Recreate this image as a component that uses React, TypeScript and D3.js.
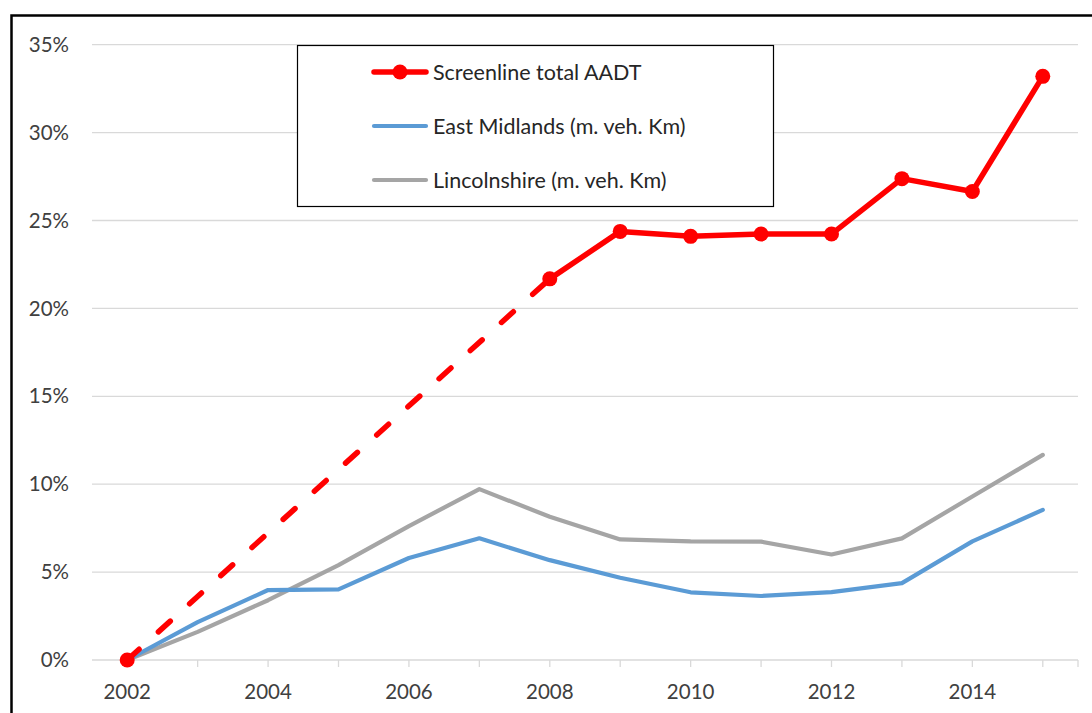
import * as React from 'react';
import * as d3 from 'd3';

const years = [2002, 2003, 2004, 2005, 2006, 2007, 2008, 2009, 2010, 2011, 2012, 2013, 2014, 2015];
const yearLabels = [2002, 2004, 2006, 2008, 2010, 2012, 2014];
const screenline: (number | null)[] = [0, null, null, null, null, null, 21.68, 24.38, 24.1, 24.23, 24.23, 27.38, 26.65, 33.2];
const eastMidlands = [0, 2.15, 3.98, 4.02, 5.8, 6.92, 5.68, 4.68, 3.85, 3.64, 3.86, 4.37, 6.75, 8.54];
const lincolnshire = [0, 1.6, 3.4, 5.4, 7.62, 9.72, 8.15, 6.86, 6.75, 6.73, 6.0, 6.92, 9.3, 11.67];
const yTicks = [0, 5, 10, 15, 20, 25, 30, 35];
const legendItems = ['Screenline total AADT', 'East Midlands (m. veh. Km)', 'Lincolnshire (m. veh. Km)'];

const RED = '#ff0000';
const BLUE = '#5b9bd5';
const GREY = '#a5a5a5';
const TEXT = '#404040';
const FONT = 'Lato, "Open Sans", sans-serif';

export default function App() {
  const width = 1092;
  const height = 713;
  const plot = { left: 92, right: 1078, top: 44.7, bottom: 660 };

  const x = d3.scalePoint<number>().domain(years).range([plot.left, plot.right]).padding(0.5);
  const y = d3.scaleLinear().domain([0, 35]).range([plot.bottom, plot.top]);

  type P = { yr: number; v: number | null };
  const pts = (vals: (number | null)[]): P[] => years.map((yr, i) => ({ yr, v: vals[i] }));

  const line = d3.line<P>()
    .defined((d) => d.v !== null)
    .x((d) => x(d.yr) as number)
    .y((d) => y(d.v as number));

  const redPts = pts(screenline);
  const redDefined = redPts.filter((d) => d.v !== null);

  return (
    <svg width={width} height={height} style={{ position: 'absolute', left: 0, top: 0 }}>
      <rect width={width} height={height} fill="#fff" />
      {/* outer frame, cut off at right and bottom */}
      <path d={`M11.5,${height} V15.5 H${width}`} fill="none" stroke="#000" strokeWidth={2.5} />

      {/* gridlines */}
      {yTicks.slice(1).map((t) => (
        <line key={t} x1={plot.left} x2={plot.right} y1={y(t)} y2={y(t)} stroke="#d9d9d9" strokeWidth={1.3} />
      ))}
      {/* x axis */}
      <line x1={plot.left} x2={plot.right} y1={plot.bottom} y2={plot.bottom} stroke="#d9d9d9" strokeWidth={1.3} />
      {years.map((yr) => (
        <line key={yr} x1={x(yr)} x2={x(yr)} y1={plot.bottom} y2={plot.bottom + 7} stroke="#d9d9d9" strokeWidth={1.3} />
      ))}
      <line x1={plot.right} x2={plot.right} y1={plot.bottom} y2={plot.bottom + 7} stroke="#d9d9d9" strokeWidth={1.3} />

      {/* y labels */}
      {yTicks.map((t) => (
        <text key={t} x={69} y={y(t)} dy="0.35em" textAnchor="end" fontFamily={FONT} fontSize={20.5} fill={TEXT}>
          {t + '%'}
        </text>
      ))}
      {/* x labels */}
      {yearLabels.map((yr) => (
        <text key={yr} x={x(yr)} y={699} textAnchor="middle" fontFamily={FONT} fontSize={20.5} fill={TEXT}>
          {yr}
        </text>
      ))}

      {/* series */}
      <path d={line(pts(lincolnshire)) || ''} fill="none" stroke={GREY} strokeWidth={4.2} strokeLinejoin="round" strokeLinecap="round" />
      <path d={line(pts(eastMidlands)) || ''} fill="none" stroke={BLUE} strokeWidth={4.2} strokeLinejoin="round" strokeLinecap="round" />
      <path d={line(redDefined.slice(0, 2)) || ''} fill="none" stroke={RED} strokeWidth={5.5} strokeDasharray="16 26" strokeLinecap="round" />
      <path d={line(redPts) || ''} fill="none" stroke={RED} strokeWidth={5.5} strokeLinejoin="round" strokeLinecap="round" />
      {redDefined.map((d) => (
        <circle key={d.yr} cx={x(d.yr)} cy={y(d.v as number)} r={7.5} fill={RED} />
      ))}

      {/* legend */}
      <rect x={297.5} y={45.5} width={476} height={161} fill="#fff" stroke="#000" strokeWidth={1.2} />
      {legendItems.map((name, i) => {
        const ly = 72 + i * 54;
        const col = [RED, BLUE, GREY][i];
        return (
          <g key={name}>
            <line x1={374} x2={426} y1={ly} y2={ly} stroke={col} strokeWidth={i === 0 ? 5.5 : 4.2} strokeLinecap="round" />
            {i === 0 && <circle cx={400} cy={ly} r={7.5} fill={RED} />}
            <text x={433} y={ly} dy="0.35em" fontFamily={FONT} fontSize={21.5} fill="#262626">
              {name}
            </text>
          </g>
        );
      })}
    </svg>
  );
}
